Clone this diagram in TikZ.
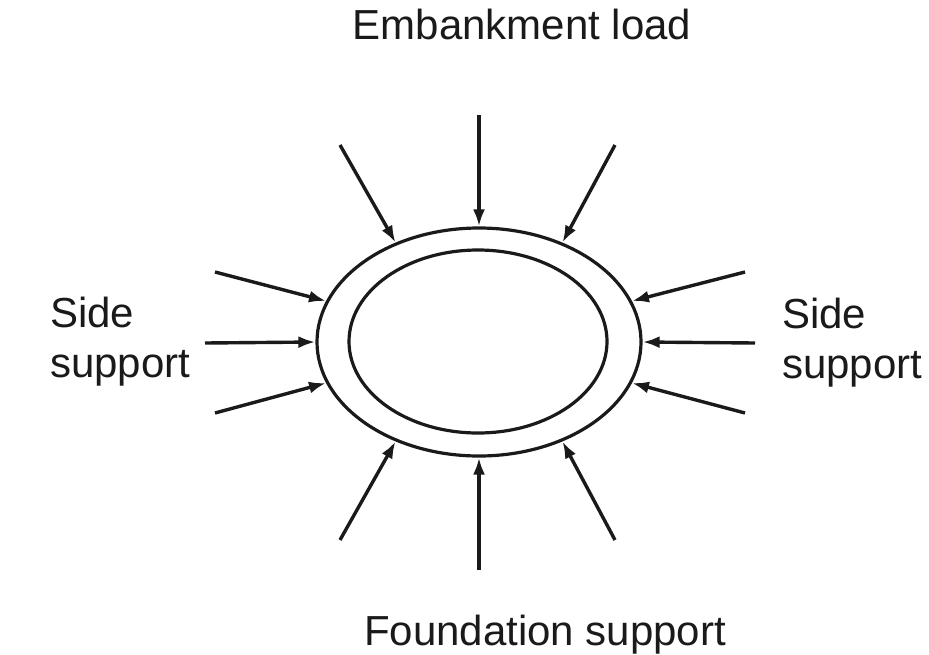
\documentclass[tikz,border=0pt]{standalone}
\usepackage{fontspec}
\setmainfont{Liberation Sans}
\usetikzlibrary{shapes.geometric,arrows.meta}
\definecolor{ink}{HTML}{1A1A1A}
\tikzset{
  ring/.style={draw=ink, ellipse, line width=3.2pt, inner sep=0pt, minimum width=#1},
  force/.style={draw=ink, line width=3.4pt, -{Latex[length=17pt,width=12pt]}},
  lbl/.style={text=ink, font=\fontsize{42}{50}\selectfont, inner sep=0pt}
}
\begin{document}
\begin{tikzpicture}[x=1pt,y=-1pt]
\useasboundingbox (0,0) rectangle (929,654);
\node[ring=324pt, minimum height=228pt] (outer) at (479,342) {};
\node[ring=258pt, minimum height=183pt] (inner) at (478,341.5) {};
% free ends
\coordinate (sT) at (479,115);
\coordinate (sTL) at (340,145);
\coordinate (sTR) at (615,145);
\coordinate (sL1) at (215,272);
\coordinate (sL2) at (205,343);
\coordinate (sL3) at (215,413);
\coordinate (sR1) at (745,272);
\coordinate (sR2) at (755,343);
\coordinate (sR3) at (745,413);
\coordinate (sB) at (479,570);
\coordinate (sBL) at (340,540);
\coordinate (sBR) at (615,540);
\draw[force] (sT) -- (outer.90);
\draw[force] (sTL) -- (outer.130);
\draw[force] (sTR) -- (outer.50);
\draw[force] (sL1) -- (outer.165);
\draw[force] (sL2) -- (outer.180);
\draw[force] (sL3) -- (outer.195);
\draw[force] (sR1) -- (outer.15);
\draw[force] (sR2) -- (outer.0);
\draw[force] (sR3) -- (outer.345);
\draw[force] (sB) -- (outer.270);
\draw[force] (sBL) -- (outer.230);
\draw[force] (sBR) -- (outer.310);
% labels
\node[lbl, anchor=base] (top) at (522,39) {Embankment load};
\node[lbl, anchor=base] (bot) at (545,645) {Foundation support};
\node[lbl, anchor=base west] (l1) at (50,327) {Side};
\node[lbl, anchor=base west] (l2) at (50,377) {support};
\node[lbl, anchor=base west] (r1) at (782,328) {Side};
\node[lbl, anchor=base west] (r2) at (782,378) {support};
\end{tikzpicture}
\end{document}
